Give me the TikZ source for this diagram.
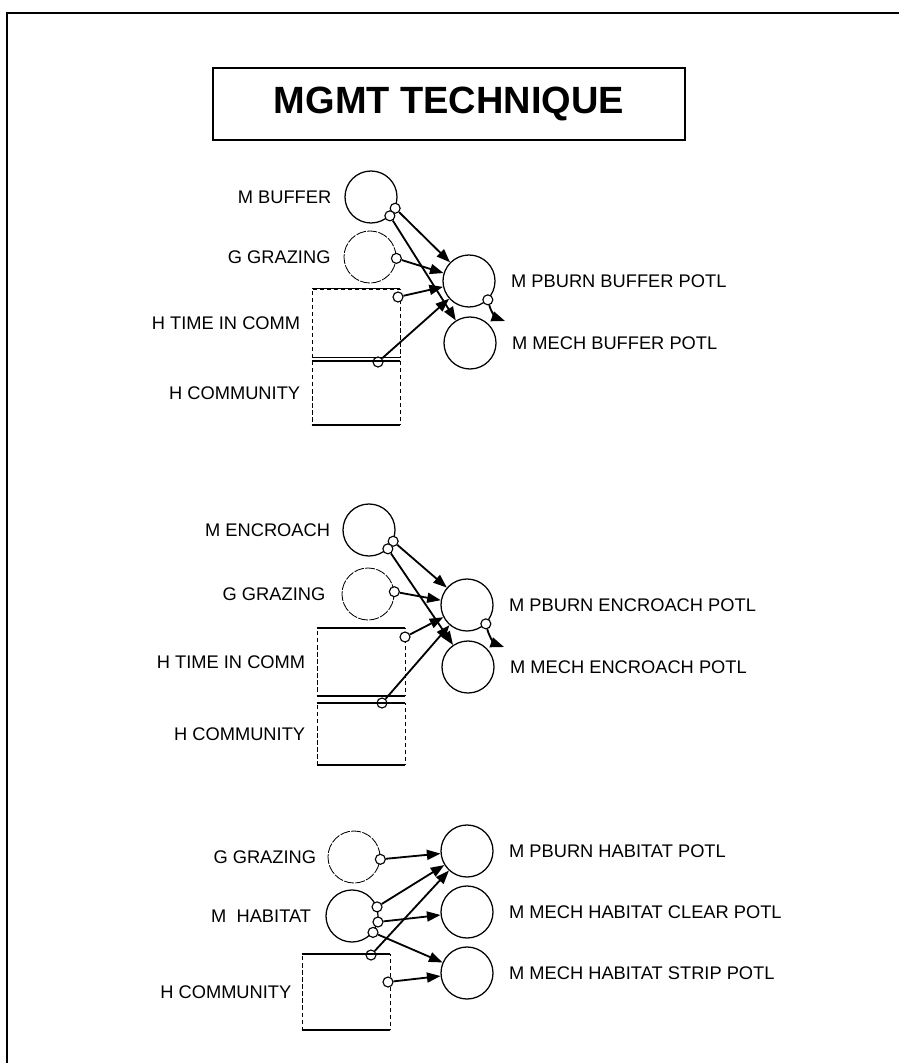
\documentclass[tikz,border=0pt]{standalone}
\usepackage{fontspec}
\setmainfont{Liberation Sans}
\usetikzlibrary{arrows.meta,positioning}

\begin{document}
\begin{tikzpicture}[x=0.025cm,y=-0.025cm,
 every node/.style={font=\fontsize{13}{15}\selectfont},
 var/.style={circle,draw,line width=0.9pt,minimum size=1.3cm,inner sep=0pt},
 ghost/.style={var,line width=0.6pt,dash pattern=on 7pt off 1pt},
 store/.style={draw,line width=0.5pt,densely dashed,minimum width=2.2cm,inner sep=0pt},
 tap/.style={circle,draw,fill=white,line width=0.8pt,minimum size=0.25cm,inner sep=0pt},
 link/.style={line width=1.3pt,-{Triangle[length=3.4mm,width=2.5mm]}},
 lbl/.style={inner sep=0pt}]
\useasboundingbox (0,0) rectangle (899,1063);
\draw[line width=1.8pt] (7,1063) -- (7,13) -- (899,13);
\node[draw,line width=1pt,minimum width=11.8cm,minimum height=1.8cm,
 font=\bfseries\fontsize{27}{30}\selectfont] (title) at (449,104) {MGMT TECHNIQUE};

% buffer
\node[var] (mb) at (371,197) {};
\node[ghost] (gg1) at (370,257) {};
\node[store,minimum height=1.7cm] (tc1) at (356,323) {};
\node[store,minimum height=1.58cm] (hc1) at (356,393) {};
\node[var] (pb1) at (469,281) {};
\node[var] (mm1) at (470,343) {};
\node[lbl,left=0.32cm of mb] {M BUFFER};
\node[lbl,left=0.32cm of gg1] {G GRAZING};
\node[lbl,left=0.28cm of tc1] {H TIME IN COMM};
\node[lbl,left=0.28cm of hc1] {H COMMUNITY};
\node[lbl,right=0.38cm of pb1] {M PBURN BUFFER POTL};
\node[lbl,right=0.38cm of mm1] {M MECH BUFFER POTL};
\node[tap] (b1) at (mb.-25) {};
\node[tap] (b2) at (mb.-45) {};
\node[tap] (b3) at (gg1.-3) {};
\node[tap] (b4) at (398,297) {};
\node[tap] (b5) at (378,362) {};
\node[tap] (b6) at (pb1.-45) {};
\coordinate (t1) at (505,321);
\draw[link] (b1) -- (pb1);
\draw[link] (b2) -- (mm1);
\draw[link] (b3) -- (pb1);
\draw[link] (b4) -- (pb1);
\draw[link] (b5) -- (pb1);
\draw[link] (b6) to[out=-75,in=160] (t1);

% encroach
\node[var] (me) at (369,530) {};
\node[ghost] (gg2) at (368,594) {};
\node[store,minimum height=1.68cm] (tc2) at (361,662) {};
\node[store,minimum height=1.53cm] (hc2) at (361,734) {};
\node[var] (pb2) at (467,605) {};
\node[var] (mm2) at (468,667) {};
\node[lbl,left=0.3cm of me] {M ENCROACH};
\node[lbl,left=0.4cm of gg2] {G GRAZING};
\node[lbl,left=0.28cm of tc2] {H TIME IN COMM};
\node[lbl,left=0.28cm of hc2] {H COMMUNITY};
\node[lbl,right=0.38cm of pb2] {M PBURN ENCROACH POTL};
\node[lbl,right=0.38cm of mm2] {M MECH ENCROACH POTL};
\node[tap] (e1) at (me.-25) {};
\node[tap] (e2) at (me.-45) {};
\node[tap] (e3) at (gg2.5) {};
\node[tap] (e4) at (405,637) {};
\node[tap] (e5) at (382,703) {};
\node[tap] (e6) at (pb2.-45) {};
\coordinate (t2) at (504,647);
\draw[link] (e1) -- (pb2);
\draw[link] (e2) -- (mm2);
\draw[link] (e3) -- (pb2);
\draw[link] (e4) -- (pb2);
\draw[link] (e5) -- (pb2);
\draw[link] (e6) to[out=-75,in=160] (t2);

% habitat
\node[ghost] (gg3) at (354,857) {};
\node[var] (mh) at (352,916) {};
\node[store,minimum height=1.88cm] (hc3) at (346,992) {};
\node[var] (pb3) at (467,851) {};
\node[var] (cl) at (467,912) {};
\node[var] (st) at (467,973) {};
\node[lbl,left=0.28cm of gg3] {G GRAZING};
\node[lbl,left=0.35cm of mh] {M\ \ HABITAT};
\node[lbl,left=0.25cm of hc3] {H COMMUNITY};
\node[lbl,right=0.38cm of pb3] {M PBURN HABITAT POTL};
\node[lbl,right=0.38cm of cl] {M MECH HABITAT CLEAR POTL};
\node[lbl,right=0.38cm of st] {M MECH HABITAT STRIP POTL};
\node[tap] (h1) at (gg3.-5) {};
\node[tap] (h2) at (mh.20) {};
\node[tap] (h3) at (mh.-13) {};
\node[tap] (h4) at (mh.-38) {};
\node[tap] (h5) at (371,955) {};
\node[tap] (h6) at (388,982) {};
\draw[link] (h1) -- (pb3);
\draw[link] (h2) -- (pb3);
\draw[link] (h3) -- (cl);
\draw[link] (h4) -- (st);
\draw[link] (h5) -- (pb3);
\draw[link] (h6) -- (st);

\foreach \b in {tc1,hc1,tc2,hc2,hc3}
 \draw[line width=0.9pt] (\b.north west) -- (\b.north east) (\b.south west) -- (\b.south east);
\end{tikzpicture}
\end{document}
